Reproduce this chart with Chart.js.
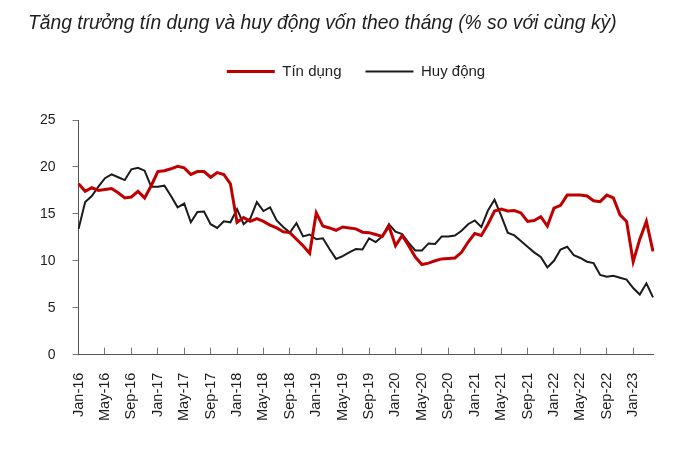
<!DOCTYPE html>
<html>
<head>
<meta charset="utf-8">
<script src="https://cdn.jsdelivr.net/npm/chart.js@4.4.1/dist/chart.umd.min.js"></script>
<style>
  body { margin: 0; background: #fff; }
  #wrap { position: relative; width: 700px; height: 453px; }
  #title {
    position: absolute; left: 28px; top: 12px;
    font-family: "Liberation Sans", Arial, sans-serif;
    font-style: italic; font-size: 19.3px; color: #1e1e1e;
    white-space: nowrap;
  }
  canvas { position: absolute; left: 0; top: 0; }
</style>
</head>
<body>
<div id="wrap">
  <canvas id="myChart" width="700" height="453"></canvas>
  <div id="title">Tăng trưởng tín dụng và huy động vốn theo tháng (% so với cùng kỳ)</div>
</div>
<script>
// months Jan-16 .. Apr-23
const monthNames = ['Jan', 'Feb', 'Mar', 'Apr', 'May', 'Jun', 'Jul', 'Aug', 'Sep', 'Oct', 'Nov', 'Dec'];
const labels = [];
for (let y = 16; y <= 23; y++) {
    for (let m = 0; m < 12; m++) {
        if (y === 23 && m > 3) break;
        labels.push(monthNames[m] + '-' + y);
    }
}

const tinDung = [
    18.2, 17.4, 17.8, 17.5, 17.6, 17.7, 17.25, 16.7, 16.8, 17.4, 16.7, 18.0,
    19.5, 19.6, 19.8, 20.07, 19.9, 19.2, 19.5, 19.5, 18.9, 19.4, 19.2, 18.2,
    14.1, 14.6, 14.2, 14.5, 14.2, 13.8, 13.5, 13.1, 13.0, 12.3, 11.6, 10.8,
    15.1, 13.7, 13.5, 13.25, 13.6, 13.5, 13.4, 13.05, 13.0, 12.8, 12.6, 13.7,
    11.6, 12.7, 11.6, 10.4, 9.6, 9.75, 10.0, 10.2, 10.25, 10.3, 10.9, 12.0,
    12.9, 12.7, 13.9, 15.3, 15.5, 15.3, 15.35, 15.1, 14.2, 14.3, 14.7, 13.7,
    15.6, 15.9, 17.0, 17.0, 17.0, 16.9, 16.4, 16.3, 17.0, 16.7, 14.9, 14.2,
    9.9, 12.3, 14.2, 11.0
];

const huyDong = [
    13.4, 16.25, 16.9, 17.9, 18.8, 19.2, 18.9, 18.6, 19.75, 19.9, 19.6, 17.9,
    17.9, 18.0, 16.9, 15.7, 16.1, 14.1, 15.2, 15.25, 13.9, 13.5, 14.2, 14.1,
    15.5, 13.9, 14.5, 16.25, 15.3, 15.7, 14.3, 13.6, 13.0, 14.0, 12.6, 12.8,
    12.3, 12.4, 11.25, 10.2, 10.5, 10.9, 11.25, 11.2, 12.4, 12.0, 12.6, 13.9,
    13.1, 12.85, 11.9, 11.1, 11.1, 11.85, 11.8, 12.6, 12.6, 12.7, 13.2, 13.9,
    14.3, 13.6, 15.35, 16.5, 14.8, 13.0, 12.7, 12.1, 11.5, 10.9, 10.4, 9.3,
    10.0, 11.2, 11.5, 10.6, 10.3, 9.9, 9.75, 8.5, 8.3, 8.4, 8.2, 8.0,
    7.1, 6.4, 7.6, 6.1
];

const yTicks = [0, 5, 10, 15, 20, 25];

// push plot area down below the legend and nudge the legend right
const legendGap = {
    id: 'legendGap',
    beforeInit(chart) {
        const fit = chart.legend.fit;
        chart.legend.fit = function () {
            fit.bind(chart.legend)();
            this.height += 31;
        };
    },
    afterLayout(chart) {
        chart.legend.left += 18;
        chart.legend.right += 18;
    }
};

const font = { family: '"Liberation Sans", Arial, sans-serif', size: 14 };

const ctx = document.getElementById('myChart').getContext('2d');
const myChart = new Chart(ctx, {
    type: 'line',
    data: {
        labels: labels,
        datasets: [{
            label: 'Tín dụng',
            data: tinDung,
            borderColor: '#c00000',
            backgroundColor: '#c00000',
            borderWidth: 3,
            pointRadius: 0,
            tension: 0
        }, {
            label: 'Huy động',
            data: huyDong,
            borderColor: '#1a1a1a',
            backgroundColor: '#1a1a1a',
            borderWidth: 2,
            pointRadius: 0,
            tension: 0
        }]
    },
    options: {
        responsive: false,
        animation: false,
        layout: {
            padding: { top: 40, left: 23, right: 47, bottom: 7 }
        },
        scales: {
            x: {
                offset: false,
                grid: {
                    drawOnChartArea: false,
                    tickLength: -7,
                    color: '#777'
                },
                border: { color: '#555' },
                ticks: {
                    autoSkip: false,
                    maxRotation: 90,
                    minRotation: 90,
                    padding: 25,
                    color: '#1e1e1e',
                    font: { family: '"Liberation Sans", Arial, sans-serif', size: 14.5 },
                    callback: function (v, i) {
                        return i % 4 === 0 ? this.getLabelForValue(v) : null;
                    }
                }
            },
            y: {
                min: 0,
                max: 25,
                afterBuildTicks: (axis) => {
                    axis.ticks = yTicks.map(v => ({ value: v }));
                },
                grid: {
                    drawOnChartArea: false,
                    tickLength: 6,
                    color: '#777'
                },
                border: { color: '#555' },
                ticks: {
                    padding: 17,
                    color: '#1e1e1e',
                    font: font
                }
            }
        },
        plugins: {
            legend: {
                display: true,
                labels: {
                    usePointStyle: true,
                    pointStyle: 'line',
                    pointStyleWidth: 48,
                    padding: 24,
                    color: '#1e1e1e',
                    font: { family: '"Liberation Sans", Arial, sans-serif', size: 15 }
                }
            },
            tooltip: { enabled: false }
        }
    },
    plugins: [legendGap]
});
</script>
</body>
</html>
